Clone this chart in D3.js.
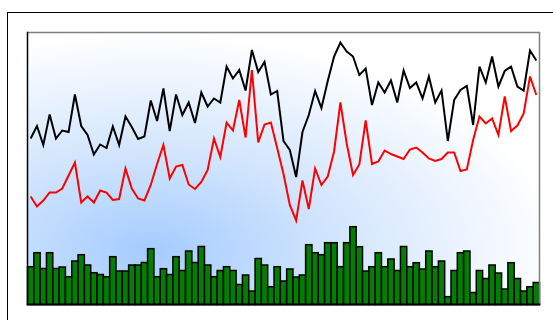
<!DOCTYPE html>
<html>
<head>
<meta charset="utf-8">
<script src="https://cdn.jsdelivr.net/npm/d3@7"></script>
<style>
  html, body { margin: 0; padding: 0; background: #ffffff; }
  svg { display: block; }
</style>
</head>
<body>
<svg id="chart" width="553" height="320"></svg>
<script>
// ---- data ----
const blackSeries = [166.5,179,160,190.5,166.5,174.5,173,210.5,179,170,150.5,160.5,157,178.5,160,188.5,178,166,168.5,204.5,
  184,216.5,174,210.5,190,202.5,182,212.5,198.5,206.5,202.5,238.5,226.5,235,214.5,255,233,243,210.5,214,
  164,155,128,173,190,214,197,224,248.5,262.5,253.5,248.5,230,236.5,200,222.5,212.5,224.5,202.5,234.5,
  217,222.5,206.5,228.5,202.5,214.5,164,205,215,219,180,238.5,222.5,248.5,218.5,234,238.5,218.5,214.5,254.5,244.5];
const redSeries = [108.5,98.5,104.5,112.5,112.5,116.5,129.5,142.5,102.5,108.5,102.5,114.5,112.5,105,106,136.5,116.5,106.5,104.5,120,
  141,160,126.5,138.5,140,120.5,116,123,135,166.5,148,182.5,174.5,205,167.5,235,162.5,180.5,182.5,157,
  131,100,84.5,124.5,96,136.5,120,128.5,153.5,202.5,161.5,130,140.5,184.5,141,143.5,154.5,151,148.5,146,
  155.5,157.5,152.5,146.5,144,146,152.5,152.5,134,135.5,165,188.5,181.5,186.5,170,208.5,174,179.5,191.5,228.5,210];
const barSeries = [38.3,52.3,36.5,52.3,36.5,38,28.3,44,50.3,40,32.3,30.5,28.3,48.3,34,34,40,40,42.5,56.3,
  28.3,36.3,30.5,48.3,34.5,54,42.5,58.5,40,28.3,34.5,38.3,34.5,20.5,30,14,46.5,40,18.3,38.3,
  24,36,28,30,60.3,52.3,50.3,62.3,62.3,38.3,62.3,78.3,58.3,34,38.3,52.3,38.3,46,34.5,58.5,
  38.3,42.3,36,54,38.3,44,8.3,34.5,52.3,54,12.5,34.5,26.5,40,32,16,42.3,26.5,14,18.3,22.5];
const categories = barSeries.map((_, i) => i + 1);
const yDomain = [0, 272.5];

// ---- layout ----
const svg = d3.select("#chart");
const plot = { left: 27.5, top: 32.5, right: 539.5, bottom: 304.5 };

const x = d3.scaleBand().domain(categories).range([plot.left, plot.right]).padding(0);
const y = d3.scaleLinear().domain(yDomain).range([305, plot.top]);

// outer frame
svg.append("rect")
  .attr("x", 7.5).attr("y", 12.5).attr("width", 600).attr("height", 400)
  .attr("fill", "#ffffff").attr("stroke", "#000000").attr("stroke-width", 1);

// background gradient
const defs = svg.append("defs");
const grad = defs.append("radialGradient")
  .attr("id", "bg").attr("cx", 0.24).attr("cy", 0.8).attr("r", 0.8)
  .attr("fx", 0.24).attr("fy", 0.8);
grad.append("stop").attr("offset", "0%").attr("stop-color", "#a4ccff");
grad.append("stop").attr("offset", "45%").attr("stop-color", "#d2e5fd");
grad.append("stop").attr("offset", "100%").attr("stop-color", "#ffffff");

svg.append("rect")
  .attr("x", plot.left).attr("y", plot.top)
  .attr("width", plot.right - plot.left).attr("height", plot.bottom - plot.top)
  .attr("fill", "url(#bg)");

// bars
svg.append("g").selectAll("rect").data(barSeries).join("rect")
  .attr("x", (d, i) => x(categories[i]))
  .attr("y", d => y(d))
  .attr("width", x.bandwidth())
  .attr("height", d => plot.bottom - y(d))
  .attr("fill", "#008000")
  .attr("stroke", "#000000")
  .attr("stroke-width", 1.5);

// lines
const line = d3.line()
  .x((d, i) => x(categories[i]) + x.bandwidth() / 2)
  .y(d => y(d));

svg.append("path").datum(redSeries)
  .attr("d", line).attr("fill", "none")
  .attr("stroke", "#ff0000").attr("stroke-width", 2).attr("stroke-linejoin", "miter");

svg.append("path").datum(blackSeries)
  .attr("d", line).attr("fill", "none")
  .attr("stroke", "#000000").attr("stroke-width", 2).attr("stroke-linejoin", "miter");

// plot frame: top/right grey, left/bottom black
const frame = svg.append("g");
frame.append("line")
  .attr("x1", plot.left).attr("x2", plot.right + 0.75).attr("y1", plot.top).attr("y2", plot.top)
  .attr("stroke", "#808080").attr("stroke-width", 1.5);
frame.append("line")
  .attr("x1", plot.right).attr("x2", plot.right).attr("y1", plot.top).attr("y2", plot.bottom)
  .attr("stroke", "#808080").attr("stroke-width", 1.5);
frame.append("line")
  .attr("x1", plot.left).attr("x2", plot.left).attr("y1", plot.top - 0.75).attr("y2", plot.bottom)
  .attr("stroke", "#000000").attr("stroke-width", 1.5);
frame.append("line")
  .attr("x1", plot.left - 0.75).attr("x2", plot.right + 0.75).attr("y1", plot.bottom).attr("y2", plot.bottom)
  .attr("stroke", "#000000").attr("stroke-width", 2);
</script>
</body>
</html>
